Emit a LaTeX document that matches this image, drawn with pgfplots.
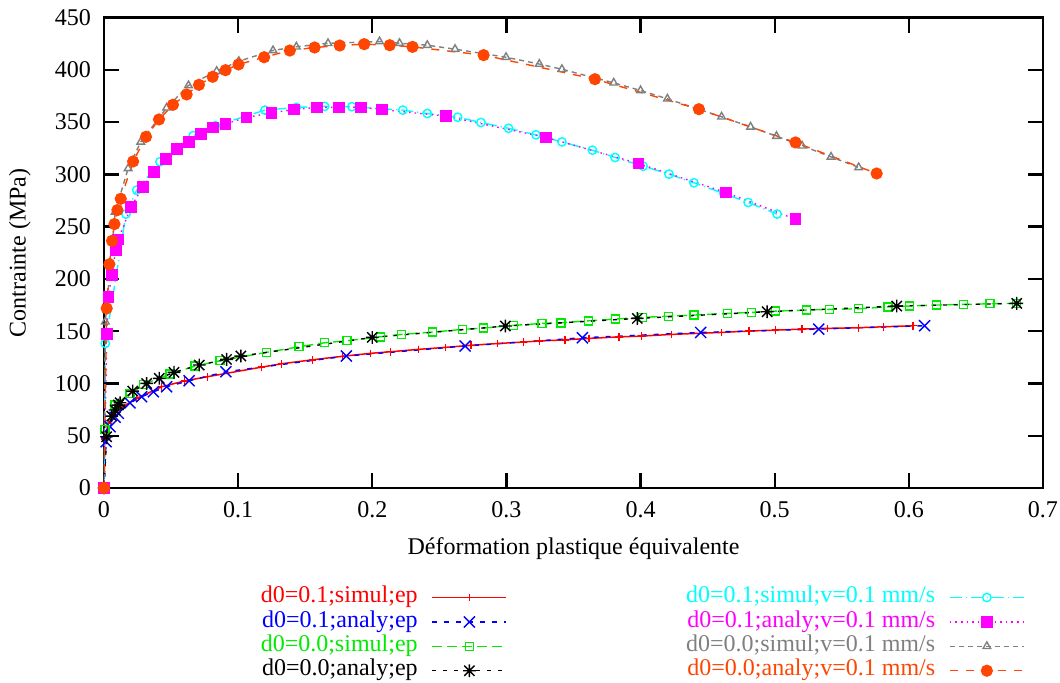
\documentclass[border=0pt]{standalone}
\usepackage{fontspec}
\setmainfont{Liberation Serif}
\usepackage{pgfplots}
\pgfplotsset{compat=1.18}
\definecolor{cred}{RGB}{255,0,0}
\definecolor{cblue}{RGB}{0,0,255}
\definecolor{cgreen}{RGB}{0,235,0}
\definecolor{ccyan}{RGB}{0,255,255}
\definecolor{cmag}{RGB}{255,0,255}
\definecolor{cgray}{RGB}{128,128,128}
\definecolor{corange}{RGB}{255,69,0}
\pgfdeclareplotmark{gstar}{%
  \pgfpathmoveto{\pgfqpoint{-\pgfplotmarksize}{0pt}}\pgfpathlineto{\pgfqpoint{\pgfplotmarksize}{0pt}}%
  \pgfpathmoveto{\pgfqpoint{0pt}{-\pgfplotmarksize}}\pgfpathlineto{\pgfqpoint{0pt}{\pgfplotmarksize}}%
  \pgfpathmoveto{\pgfqpoint{-.8\pgfplotmarksize}{-.8\pgfplotmarksize}}\pgfpathlineto{\pgfqpoint{.8\pgfplotmarksize}{.8\pgfplotmarksize}}%
  \pgfpathmoveto{\pgfqpoint{-.8\pgfplotmarksize}{.8\pgfplotmarksize}}\pgfpathlineto{\pgfqpoint{.8\pgfplotmarksize}{-.8\pgfplotmarksize}}%
  \pgfusepathqstroke}
\newcommand{\legtxt}[1]{\makebox[207bp][r]{#1}}
\begin{document}
\begin{tikzpicture}[font=\fontsize{12bp}{14bp}\selectfont]
\begin{axis}[
  scale only axis, width=469.5bp, height=235.25bp,
  at={(0,0)}, anchor=south west,
  xmin=0, xmax=0.7, ymin=0, ymax=450,
  xtick={0,0.1,0.2,0.3,0.4,0.5,0.6,0.7},
  ytick={0,50,100,150,200,250,300,350,400,450},
  tick align=inside, major tick length=7.5bp,
  axis line style={line width=1.4bp},
  every tick/.style={black, line width=1.2bp},
  /pgf/number format/assume math mode=true,
  xticklabel style={/pgf/number format/fixed, /pgf/number format/precision=1, yshift=-3bp},
  yticklabel style={xshift=-3bp},
  xlabel={Déformation plastique équivalente},
  ylabel={Contrainte (MPa)},
  xlabel style={at={(axis description cs:0.5,-0.1297)}, anchor=center},
  ylabel style={at={(axis description cs:-0.0895,0.5)}, anchor=center},
  legend columns=4, transpose legend, legend plot pos=right, legend cell align=right,
  legend style={draw=none, fill=none, at={(0.9808,-0.206)}, anchor=north east,
    column sep=7bp, row sep=0pt, inner sep=0pt,
    nodes={inner sep=0pt, text height=8.7bp, text depth=3.5bp}},
  legend image code/.code={\draw[mark repeat=2,mark phase=2,#1] plot coordinates {(0bp,0bp) (18.5bp,0bp) (37bp,0bp)};},
]
% red
\addplot[color=cred, line width=0.75bp, mark=+, mark size=1.9bp, mark options={solid, line width=0.7bp},
  legend image code/.code={\draw[cred, line width=0.75bp, mark=+, mark size=1.9bp, mark options={solid, cred, line width=0.7bp}, mark repeat=2, mark phase=2] plot coordinates {(0bp,0bp) (18.5bp,0bp) (37bp,0bp)};}] coordinates {
(0,0) (0.0005,47) (0.0033,61.8) (0.0075,70) (0.013,77) (0.0244,85.7) (0.043,96.8) (0.060,102.4) (0.077,106.4)
(0.1174,115.6) (0.1323,118.8) (0.1553,122.6) (0.178,126) (0.1987,128.8) (0.2134,130.3) (0.2345,132.6)
(0.2545,134.5) (0.2737,136.5) (0.2935,138.2) (0.3128,139.6) (0.3245,140.6) (0.3438,141.7) (0.3617,143.1)
(0.384,144.5) (0.4009,145.3) (0.4232,146.9) (0.4604,148.8) (0.4807,150.1) (0.5006,151) (0.5204,152)
(0.5395,152.7) (0.5626,153.3) (0.5812,154.2) (0.603,155.2)};
\addlegendentry[text=cred]{\legtxt{d0=0.1;simul;ep}}
% blue
\addplot[color=cblue, line width=0.7bp, dash pattern=on 2.5bp off 3.5bp, mark=x, mark size=3.9bp, mark options={solid, line width=0.7bp}] coordinates {
(0,0) (0.0016,44.3) (0.0045,58.6) (0.0083,67.6) (0.0107,71.4) (0.0194,81.5) (0.0281,87.3) (0.0368,92)
(0.0467,96.8) (0.0635,102.6) (0.0909,111.2) (0.1807,126.2) (0.2692,135.8) (0.3567,143.7) (0.4448,148.8)
(0.5328,152) (0.6117,155.2)};
\addlegendentry[text=cblue]{\legtxt{d0=0.1;analy;ep}}
% green
\addplot[color=cgreen, line width=0.7bp, dash pattern=on 5bp off 2.5bp, mark=square, mark size=2bp, mark options={solid, line width=0.7bp}] coordinates {
(0,0) (0.0008,56.1) (0.0083,79.3) (0.0194,90.5) (0.0293,99.1) (0.0492,109) (0.0678,116.6) (0.0864,121.7)
(0.1211,129.7) (0.1454,135.1) (0.1645,138.9) (0.1811,140.8) (0.206,144.6) (0.222,146.9) (0.245,149.1)
(0.2674,151.7) (0.283,153) (0.3051,155.5) (0.3265,157.4) (0.3406,158) (0.3612,159.9) (0.3815,161.6)
(0.4013,163.2) (0.4207,164.3) (0.4398,165.4) (0.4646,167) (0.4827,168) (0.5006,169.2) (0.5237,170.2)
(0.5408,170.8) (0.5626,171.4) (0.5844,173.3) (0.6003,174) (0.6208,175) (0.6407,175.6) (0.6606,176.2) (0.6804,176.6)};
\addlegendentry[text=cgreen]{\legtxt{d0=0.0;simul;ep}}
% black
\addplot[color=black, line width=0.7bp, dash pattern=on 2bp off 3.5bp, mark=gstar, mark size=3.2bp, mark options={solid, line width=0.7bp}] coordinates {
(0,0) (0.002,49) (0.0058,68.8) (0.0083,74.6) (0.0107,79.3) (0.012,81.5) (0.0214,92.7) (0.0318,100)
(0.0412,104.9) (0.0522,110.6) (0.071,117.6) (0.0914,123) (0.102,126.2) (0.2,144) (0.2992,154.9)
(0.3976,162.2) (0.4944,168.6) (0.591,174) (0.6804,176.6)};
\addlegendentry[text=black]{\legtxt{d0=0.0;analy;ep}}
% cyan
\addplot[color=ccyan, line width=0.7bp, dash pattern=on 6bp off 2bp on 0.6bp off 2bp, mark=o, mark size=2.1bp, mark options={solid, line width=0.7bp}] coordinates {
(0,0) (0.001,138.3) (0.0164,262) (0.0244,284.9) (0.0417,312) (0.0665,337) (0.083,346.5) (0.12,361.4)
(0.1434,364) (0.1645,365) (0.1848,364.7) (0.2228,361.4) (0.241,358.2) (0.2637,354.6) (0.281,349.6)
(0.3016,344) (0.322,337.8) (0.3414,331) (0.3641,323.1) (0.381,316.1) (0.4019,307.8) (0.4212,300.2)
(0.4398,291.9) (0.4621,281.7) (0.4802,273.1) (0.5018,262)};
\addlegendentry[text=ccyan]{\legtxt{d0=0.1;simul;v=0.1 mm/s}}
% magenta
\addplot[color=cmag, line width=0.7bp, dash pattern=on 0.8bp off 2bp, mark=square*, mark size=2.6bp, mark options={solid}] coordinates {
(0,0) (0.0021,147) (0.0033,183) (0.0058,203.6) (0.0088,227.5) (0.0107,237.7) (0.02,268.4) (0.0289,288)
(0.0373,302.4) (0.0462,314.5) (0.0546,324.1) (0.0635,331.1) (0.0722,338.4) (0.0814,344.8) (0.0906,348.3)
(0.1062,354.4) (0.1248,358.8) (0.1417,362) (0.1588,364) (0.1751,364) (0.1918,364) (0.2071,362)
(0.255,355.6) (0.3295,335.3) (0.3984,310.4) (0.4634,282.7) (0.5155,257)};
\addlegendentry[text=cmag]{\legtxt{d0=0.1;analy;v=0.1 mm/s}}
% gray
\addplot[color=cgray, line width=0.7bp, dash pattern=on 2.5bp off 2bp, mark=triangle, mark size=2.2bp, mark options={solid, line width=0.7bp}] coordinates {
(0,0) (0.001,159) (0.0083,264) (0.018,305.6) (0.0274,331) (0.0467,363.6) (0.063,385) (0.084,398.7)
(0.1005,408.2) (0.126,418.5) (0.1434,422) (0.167,425.3) (0.2054,427) (0.2203,425.4) (0.241,423.5)
(0.2617,419.7) (0.2997,412) (0.3245,405.5) (0.3414,400.5) (0.38,387.5) (0.400,380.2) (0.42,372.2)
(0.4604,355) (0.482,345.4) (0.5013,336.5) (0.5204,327.3) (0.542,316.7) (0.5626,306.6)};
\addlegendentry[text=cgray]{\legtxt{d0=0.0;simul;v=0.1 mm/s}}
% orange
\addplot[color=corange, line width=0.7bp, dash pattern=on 4bp off 4bp, mark=*, mark size=2.7bp, mark options={solid}] coordinates {
(0,0) (0.002,171.8) (0.004,214) (0.006,236.4) (0.0078,252.4) (0.010,265.8) (0.0125,276.6) (0.0217,312.3)
(0.0313,335.9) (0.041,352.5) (0.0514,366.5) (0.0616,376.4) (0.0708,385.6) (0.081,393.3) (0.0906,399.6)
(0.1003,405.1) (0.1194,412) (0.1385,418.4) (0.157,421.3) (0.1757,423.2) (0.194,424.5) (0.213,423.5)
(0.230,421.9) (0.283,414) (0.366,391) (0.4435,362.3) (0.5155,330.5) (0.576,300.8)};
\addlegendentry[text=corange]{\legtxt{d0=0.0;analy;v=0.1 mm/s}}
\end{axis}
\pgfresetboundingbox
\path[use as bounding box] (-52bp,-97.5bp) rectangle (478bp,244bp);
\end{tikzpicture}
\end{document}
